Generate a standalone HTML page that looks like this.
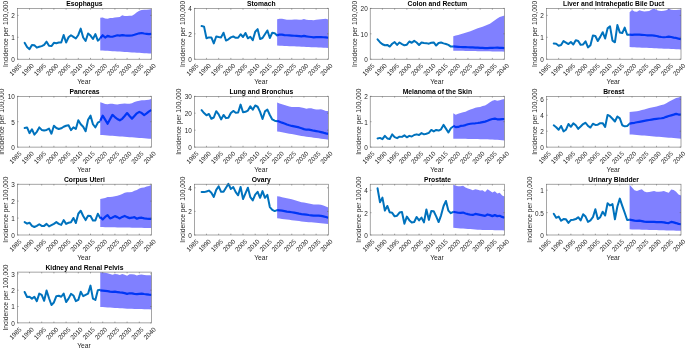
<!DOCTYPE html>
<html><head><meta charset="utf-8"><title>Incidence forecasts</title>
<style>html,body{margin:0;padding:0;background:#fff}svg{display:block}text{font-family:"Liberation Sans",Arial,sans-serif}.t{font-size:6.75px;font-weight:bold;fill:#000;text-anchor:middle}.l{font-size:6.7px;fill:#262626;text-anchor:middle}.k{font-size:6.4px;fill:#262626}</style></head>
<body>
<svg width="685" height="348" viewBox="0 0 685 348">
<rect width="685" height="348" fill="#fff"/>
<g>
<clipPath id="c0"><rect x="17.3" y="8.4" width="134.2" height="50.8"/></clipPath>
<polyline fill="none" stroke="#0072BD" stroke-width="2" stroke-linejoin="round" stroke-linecap="round" points="24.62,42.81 27.06,46.99 29.5,49.14 31.94,45.09 34.38,45.34 36.82,47.62 39.26,46.73 41.7,46.1 44.14,44.84 46.58,41.67 49.02,45.85 51.46,46.1 53.9,42.81 56.34,43.19 58.78,42.56 61.22,42.56 63.66,34.97 66.1,42.56 68.54,37.25 70.98,35.22 73.42,36.87 75.86,38.51 78.3,34.97 80.74,28.65 83.18,37.5 85.62,41.04 88.06,33.45 90.5,35.6 92.94,39.02 95.38,34.09 97.82,40.66 100.26,38.51"/>
<polygon clip-path="url(#c0)" fill="#8080FF" points="100.26,17.71 102.7,17.42 105.14,18.51 107.58,18.71 110.02,17.91 112.46,17.91 114.9,17.61 117.34,17.32 119.78,16.92 122.22,15.13 124.66,16.03 127.1,15.93 129.54,15.83 131.98,15.63 134.42,14.14 136.86,12.15 139.3,10.76 141.74,9.97 144.18,9.77 146.62,9.67 149.06,9.57 151.5,8.98 151.5,53.6 149.06,53.45 146.62,53.3 144.18,53.14 141.74,52.99 139.3,52.84 136.86,52.69 134.42,52.53 131.98,52.38 129.54,52.23 127.1,52.08 124.66,51.92 122.22,51.77 119.78,51.62 117.34,51.47 114.9,51.31 112.46,51.16 110.02,51.01 107.58,50.86 105.14,50.7 102.7,50.55 100.26,50.4"/>
<polyline clip-path="url(#c0)" fill="none" stroke="#0036F5" stroke-width="2.2" stroke-linejoin="round" points="100.26,38.26 102.7,35.28 105.14,37.57 107.58,35.78 110.02,36.58 112.46,36.77 114.9,35.98 117.34,35.28 119.78,35.58 122.22,35.09 124.66,35.38 127.1,35.58 129.54,35.58 131.98,35.48 134.42,34.79 136.86,33.99 139.3,33.3 141.74,33 144.18,33.5 146.62,33.8 149.06,34.09 151.5,33.8"/>
<rect x="17.3" y="8.4" width="134.2" height="50.8" fill="none" stroke="#6a6a6a" stroke-width="0.6"/>
<path d="M29.5 59.2v-1.3M29.5 8.4v1.3M41.7 59.2v-1.3M41.7 8.4v1.3M53.9 59.2v-1.3M53.9 8.4v1.3M66.1 59.2v-1.3M66.1 8.4v1.3M78.3 59.2v-1.3M78.3 8.4v1.3M90.5 59.2v-1.3M90.5 8.4v1.3M102.7 59.2v-1.3M102.7 8.4v1.3M114.9 59.2v-1.3M114.9 8.4v1.3M127.1 59.2v-1.3M127.1 8.4v1.3M139.3 59.2v-1.3M139.3 8.4v1.3M17.3 59.2h1.3M151.5 59.2h-1.3M17.3 37.3h1.3M151.5 37.3h-1.3M17.3 15.4h1.3M151.5 15.4h-1.3" stroke="#6a6a6a" stroke-width="0.6" fill="none"/>
<text class="k" text-anchor="end" transform="translate(22.1 66.2) rotate(-45)">1985</text>
<text class="k" text-anchor="end" transform="translate(34.3 66.2) rotate(-45)">1990</text>
<text class="k" text-anchor="end" transform="translate(46.5 66.2) rotate(-45)">1995</text>
<text class="k" text-anchor="end" transform="translate(58.7 66.2) rotate(-45)">2000</text>
<text class="k" text-anchor="end" transform="translate(70.9 66.2) rotate(-45)">2005</text>
<text class="k" text-anchor="end" transform="translate(83.1 66.2) rotate(-45)">2010</text>
<text class="k" text-anchor="end" transform="translate(95.3 66.2) rotate(-45)">2015</text>
<text class="k" text-anchor="end" transform="translate(107.5 66.2) rotate(-45)">2020</text>
<text class="k" text-anchor="end" transform="translate(119.7 66.2) rotate(-45)">2025</text>
<text class="k" text-anchor="end" transform="translate(131.9 66.2) rotate(-45)">2030</text>
<text class="k" text-anchor="end" transform="translate(144.1 66.2) rotate(-45)">2035</text>
<text class="k" text-anchor="end" transform="translate(156.3 66.2) rotate(-45)">2040</text>
<text class="k" text-anchor="end" x="14.8" y="62.1">0</text>
<text class="k" text-anchor="end" x="14.8" y="40.2">1</text>
<text class="k" text-anchor="end" x="14.8" y="18.3">2</text>
<text class="t" x="84.4" y="5.8">Esophagus</text>
<text class="l" x="84" y="84.3">Year</text>
<text class="l" transform="translate(8.04 33.8) rotate(-90)">Incidence per 100,000</text>
</g>
<g>
<clipPath id="c1"><rect x="194.3" y="8.4" width="134" height="50.8"/></clipPath>
<polyline fill="none" stroke="#0072BD" stroke-width="2" stroke-linejoin="round" stroke-linecap="round" points="201.61,26.01 204.05,26.65 206.48,38.28 208.92,37.4 211.35,37.4 213.79,43.34 216.23,36.51 218.66,37.02 221.1,37.4 223.54,32.72 225.97,40.56 228.41,39.29 230.85,37.4 233.28,36.51 235.72,37.78 238.15,37.78 240.59,34.24 243.03,37.02 245.46,32.97 247.9,38.28 250.34,36.76 252.77,40.31 255.21,31.71 257.65,29.18 260.08,39.04 262.52,38.03 264.95,34.24 267.39,30.44 269.83,38.03 272.26,32.72 274.7,33.22 277.14,35.5"/>
<polygon clip-path="url(#c1)" fill="#8080FF" points="277.14,19.16 279.57,18.76 282.01,18.67 284.45,19.16 286.88,19.66 289.32,19.86 291.75,19.76 294.19,19.56 296.63,19.46 299.06,19.76 301.5,19.76 303.94,18.96 306.37,19.76 308.81,19.96 311.25,19.96 313.68,20.35 316.12,19.66 318.55,19.56 320.99,19.36 323.43,18.96 325.86,18.76 328.3,19.46 328.3,47.9 325.86,47.79 323.43,47.68 320.99,47.57 318.55,47.46 316.12,47.35 313.68,47.24 311.25,47.13 308.81,47.02 306.37,46.91 303.94,46.8 301.5,46.7 299.06,46.59 296.63,46.48 294.19,46.37 291.75,46.26 289.32,46.15 286.88,46.04 284.45,45.93 282.01,45.82 279.57,45.71 277.14,45.6"/>
<polyline clip-path="url(#c1)" fill="none" stroke="#0036F5" stroke-width="2.2" stroke-linejoin="round" points="277.14,35.34 279.57,34.55 282.01,34.65 284.45,35.05 286.88,35.24 289.32,35.34 291.75,35.54 294.19,35.74 296.63,35.84 299.06,36.04 301.5,36.34 303.94,35.84 306.37,36.44 308.81,36.73 311.25,37.03 313.68,37.43 316.12,37.13 318.55,37.03 320.99,37.13 323.43,37.23 325.86,37.43 328.3,37.73"/>
<rect x="194.3" y="8.4" width="134" height="50.8" fill="none" stroke="#6a6a6a" stroke-width="0.6"/>
<path d="M206.48 59.2v-1.3M206.48 8.4v1.3M218.66 59.2v-1.3M218.66 8.4v1.3M230.85 59.2v-1.3M230.85 8.4v1.3M243.03 59.2v-1.3M243.03 8.4v1.3M255.21 59.2v-1.3M255.21 8.4v1.3M267.39 59.2v-1.3M267.39 8.4v1.3M279.57 59.2v-1.3M279.57 8.4v1.3M291.75 59.2v-1.3M291.75 8.4v1.3M303.94 59.2v-1.3M303.94 8.4v1.3M316.12 59.2v-1.3M316.12 8.4v1.3M194.3 59.2h1.3M328.3 59.2h-1.3M194.3 33.8h1.3M328.3 33.8h-1.3M194.3 8.4h1.3M328.3 8.4h-1.3" stroke="#6a6a6a" stroke-width="0.6" fill="none"/>
<text class="k" text-anchor="end" transform="translate(199.1 66.2) rotate(-45)">1985</text>
<text class="k" text-anchor="end" transform="translate(211.28 66.2) rotate(-45)">1990</text>
<text class="k" text-anchor="end" transform="translate(223.46 66.2) rotate(-45)">1995</text>
<text class="k" text-anchor="end" transform="translate(235.65 66.2) rotate(-45)">2000</text>
<text class="k" text-anchor="end" transform="translate(247.83 66.2) rotate(-45)">2005</text>
<text class="k" text-anchor="end" transform="translate(260.01 66.2) rotate(-45)">2010</text>
<text class="k" text-anchor="end" transform="translate(272.19 66.2) rotate(-45)">2015</text>
<text class="k" text-anchor="end" transform="translate(284.37 66.2) rotate(-45)">2020</text>
<text class="k" text-anchor="end" transform="translate(296.55 66.2) rotate(-45)">2025</text>
<text class="k" text-anchor="end" transform="translate(308.74 66.2) rotate(-45)">2030</text>
<text class="k" text-anchor="end" transform="translate(320.92 66.2) rotate(-45)">2035</text>
<text class="k" text-anchor="end" transform="translate(333.1 66.2) rotate(-45)">2040</text>
<text class="k" text-anchor="end" x="191.8" y="62.1">0</text>
<text class="k" text-anchor="end" x="191.8" y="36.7">2</text>
<text class="k" text-anchor="end" x="191.8" y="11.3">4</text>
<text class="t" x="261.3" y="5.8">Stomach</text>
<text class="l" x="260.9" y="84.3">Year</text>
<text class="l" transform="translate(185.04 33.8) rotate(-90)">Incidence per 100,000</text>
</g>
<g>
<clipPath id="c2"><rect x="370.2" y="8.4" width="134.4" height="50.8"/></clipPath>
<polyline fill="none" stroke="#0072BD" stroke-width="2" stroke-linejoin="round" stroke-linecap="round" points="377.53,39.35 379.97,42.13 382.42,44.28 384.86,45.29 387.31,44.91 389.75,46.56 392.19,43.78 394.64,42.13 397.08,44.91 399.52,42.51 401.97,44.03 404.41,45.29 406.85,44.66 409.3,41.5 411.74,42.76 414.19,40.87 416.63,42.51 419.07,45.04 421.52,42.51 423.96,43.02 426.4,43.14 428.85,43.65 431.29,42.76 433.73,42.39 436.18,45.55 438.62,43.02 441.07,42.51 443.51,43.4 445.95,44.03 448.4,44.91 450.84,46.56 453.28,46.56"/>
<polygon clip-path="url(#c2)" fill="#8080FF" points="453.28,36.28 455.73,35.58 458.17,34.99 460.61,34.29 463.06,33.6 465.5,32.8 467.95,32.01 470.39,31.31 472.83,30.32 475.28,29.33 477.72,28.34 480.16,27.54 482.61,26.65 485.05,25.66 487.49,24.86 489.94,23.67 492.38,22.08 494.83,20.2 497.27,18.41 499.71,16.92 502.16,16.22 504.6,15.43 504.6,51.65 502.16,51.6 499.71,51.55 497.27,51.51 494.83,51.46 492.38,51.41 489.94,51.36 487.49,51.32 485.05,51.27 482.61,51.22 480.16,51.17 477.72,51.13 475.28,51.08 472.83,51.03 470.39,50.98 467.95,50.94 465.5,50.89 463.06,50.84 460.61,50.79 458.17,50.75 455.73,50.7 453.28,50.65"/>
<polyline clip-path="url(#c2)" fill="none" stroke="#0036F5" stroke-width="2.2" stroke-linejoin="round" points="453.28,46.38 455.73,46.58 458.17,46.78 460.61,46.98 463.06,47.07 465.5,47.17 467.95,47.27 470.39,47.37 472.83,47.47 475.28,47.57 477.72,47.67 480.16,47.87 482.61,47.97 485.05,48.07 487.49,48.07 489.94,47.97 492.38,47.87 494.83,47.77 497.27,47.67 499.71,47.87 502.16,47.97 504.6,48.07"/>
<rect x="370.2" y="8.4" width="134.4" height="50.8" fill="none" stroke="#6a6a6a" stroke-width="0.6"/>
<path d="M382.42 59.2v-1.3M382.42 8.4v1.3M394.64 59.2v-1.3M394.64 8.4v1.3M406.85 59.2v-1.3M406.85 8.4v1.3M419.07 59.2v-1.3M419.07 8.4v1.3M431.29 59.2v-1.3M431.29 8.4v1.3M443.51 59.2v-1.3M443.51 8.4v1.3M455.73 59.2v-1.3M455.73 8.4v1.3M467.95 59.2v-1.3M467.95 8.4v1.3M480.16 59.2v-1.3M480.16 8.4v1.3M492.38 59.2v-1.3M492.38 8.4v1.3M370.2 59.2h1.3M504.6 59.2h-1.3M370.2 33.8h1.3M504.6 33.8h-1.3M370.2 8.4h1.3M504.6 8.4h-1.3" stroke="#6a6a6a" stroke-width="0.6" fill="none"/>
<text class="k" text-anchor="end" transform="translate(375 66.2) rotate(-45)">1985</text>
<text class="k" text-anchor="end" transform="translate(387.22 66.2) rotate(-45)">1990</text>
<text class="k" text-anchor="end" transform="translate(399.44 66.2) rotate(-45)">1995</text>
<text class="k" text-anchor="end" transform="translate(411.65 66.2) rotate(-45)">2000</text>
<text class="k" text-anchor="end" transform="translate(423.87 66.2) rotate(-45)">2005</text>
<text class="k" text-anchor="end" transform="translate(436.09 66.2) rotate(-45)">2010</text>
<text class="k" text-anchor="end" transform="translate(448.31 66.2) rotate(-45)">2015</text>
<text class="k" text-anchor="end" transform="translate(460.53 66.2) rotate(-45)">2020</text>
<text class="k" text-anchor="end" transform="translate(472.75 66.2) rotate(-45)">2025</text>
<text class="k" text-anchor="end" transform="translate(484.96 66.2) rotate(-45)">2030</text>
<text class="k" text-anchor="end" transform="translate(497.18 66.2) rotate(-45)">2035</text>
<text class="k" text-anchor="end" transform="translate(509.4 66.2) rotate(-45)">2040</text>
<text class="k" text-anchor="end" x="367.7" y="62.1">0</text>
<text class="k" text-anchor="end" x="367.7" y="36.7">10</text>
<text class="k" text-anchor="end" x="367.7" y="11.3">20</text>
<text class="t" x="437.4" y="5.8">Colon and Rectum</text>
<text class="l" x="437" y="84.3">Year</text>
<text class="l" transform="translate(357.38 33.8) rotate(-90)">Incidence per 100,000</text>
</g>
<g>
<clipPath id="c3"><rect x="546.4" y="8.4" width="134.6" height="50.8"/></clipPath>
<polyline fill="none" stroke="#0072BD" stroke-width="2" stroke-linejoin="round" stroke-linecap="round" points="553.74,43.57 556.19,43.82 558.64,45.72 561.08,45.09 563.53,41.04 565.98,42.56 568.43,44.08 570.87,41.93 573.32,44.46 575.77,40.28 578.21,41.04 580.66,44.84 583.11,44.46 585.56,41.29 588,47.36 590.45,45.34 592.9,35.6 595.35,35.98 597.79,41.04 600.24,36.87 602.69,32.19 605.13,38.51 607.58,28.39 610.03,26.37 612.48,40.66 614.92,42.31 617.37,25.11 619.82,32.44 622.27,33.07 624.71,27.64 627.16,34.72 629.61,34.72"/>
<polygon clip-path="url(#c3)" fill="#8080FF" points="629.61,12.15 632.05,9.97 634.5,11.46 636.95,11.76 639.4,10.17 641.84,10.96 644.29,11.46 646.74,11.16 649.19,10.96 651.63,9.47 654.08,8.48 656.53,9.97 658.97,10.76 661.42,10.96 663.87,10.76 666.32,10.17 668.76,8.78 671.21,9.77 673.66,9.97 676.11,9.97 678.55,9.77 681,9.47 681,49.4 678.55,49.29 676.11,49.18 673.66,49.07 671.21,48.96 668.76,48.85 666.32,48.74 663.87,48.63 661.42,48.52 658.97,48.41 656.53,48.3 654.08,48.2 651.63,48.09 649.19,47.98 646.74,47.87 644.29,47.76 641.84,47.65 639.4,47.54 636.95,47.43 634.5,47.32 632.05,47.21 629.61,47.1"/>
<polyline clip-path="url(#c3)" fill="none" stroke="#0036F5" stroke-width="2.2" stroke-linejoin="round" points="629.61,34.59 632.05,34.79 634.5,34.59 636.95,34.49 639.4,34.59 641.84,34.79 644.29,34.99 646.74,35.28 649.19,35.38 651.63,35.28 654.08,35.58 656.53,35.98 658.97,36.58 661.42,36.97 663.87,37.27 666.32,36.97 668.76,36.58 671.21,36.97 673.66,37.57 676.11,37.96 678.55,38.56 681,39.06"/>
<rect x="546.4" y="8.4" width="134.6" height="50.8" fill="none" stroke="#6a6a6a" stroke-width="0.6"/>
<path d="M558.64 59.2v-1.3M558.64 8.4v1.3M570.87 59.2v-1.3M570.87 8.4v1.3M583.11 59.2v-1.3M583.11 8.4v1.3M595.35 59.2v-1.3M595.35 8.4v1.3M607.58 59.2v-1.3M607.58 8.4v1.3M619.82 59.2v-1.3M619.82 8.4v1.3M632.05 59.2v-1.3M632.05 8.4v1.3M644.29 59.2v-1.3M644.29 8.4v1.3M656.53 59.2v-1.3M656.53 8.4v1.3M668.76 59.2v-1.3M668.76 8.4v1.3M546.4 59.2h1.3M681 59.2h-1.3M546.4 37.3h1.3M681 37.3h-1.3M546.4 15.4h1.3M681 15.4h-1.3" stroke="#6a6a6a" stroke-width="0.6" fill="none"/>
<text class="k" text-anchor="end" transform="translate(551.2 66.2) rotate(-45)">1985</text>
<text class="k" text-anchor="end" transform="translate(563.44 66.2) rotate(-45)">1990</text>
<text class="k" text-anchor="end" transform="translate(575.67 66.2) rotate(-45)">1995</text>
<text class="k" text-anchor="end" transform="translate(587.91 66.2) rotate(-45)">2000</text>
<text class="k" text-anchor="end" transform="translate(600.15 66.2) rotate(-45)">2005</text>
<text class="k" text-anchor="end" transform="translate(612.38 66.2) rotate(-45)">2010</text>
<text class="k" text-anchor="end" transform="translate(624.62 66.2) rotate(-45)">2015</text>
<text class="k" text-anchor="end" transform="translate(636.85 66.2) rotate(-45)">2020</text>
<text class="k" text-anchor="end" transform="translate(649.09 66.2) rotate(-45)">2025</text>
<text class="k" text-anchor="end" transform="translate(661.33 66.2) rotate(-45)">2030</text>
<text class="k" text-anchor="end" transform="translate(673.56 66.2) rotate(-45)">2035</text>
<text class="k" text-anchor="end" transform="translate(685.8 66.2) rotate(-45)">2040</text>
<text class="k" text-anchor="end" x="543.9" y="62.1">0</text>
<text class="k" text-anchor="end" x="543.9" y="40.2">1</text>
<text class="k" text-anchor="end" x="543.9" y="18.3">2</text>
<text class="t" x="613.7" y="5.8">Liver and Intrahepatic Bile Duct</text>
<text class="l" x="613.3" y="84.3">Year</text>
<text class="l" transform="translate(537.14 33.8) rotate(-90)">Incidence per 100,000</text>
</g>
<g>
<clipPath id="c4"><rect x="17.3" y="96.3" width="134.2" height="50.8"/></clipPath>
<polyline fill="none" stroke="#0072BD" stroke-width="2" stroke-linejoin="round" stroke-linecap="round" points="24.62,128.03 27.06,127.4 29.5,133.09 31.94,129.29 34.38,134.61 36.82,131.82 39.26,127.4 41.7,129.93 44.14,130.56 46.58,129.93 49.02,128.66 51.46,133.72 53.9,125.75 56.34,128.03 58.78,129.04 61.22,128.28 63.66,126.76 66.1,125.75 68.54,125.25 70.98,130.18 73.42,127.4 75.86,129.04 78.3,120.19 80.74,124.24 83.18,126.76 85.62,131.19 88.06,119.81 90.5,115.64 92.94,124.24 95.38,127.4 97.82,122.72 100.26,121.45"/>
<polygon clip-path="url(#c4)" fill="#8080FF" points="100.26,102.14 102.7,102.93 105.14,103.93 107.58,104.13 110.02,103.63 112.46,103.73 114.9,104.32 117.34,104.42 119.78,104.03 122.22,103.73 124.66,103.43 127.1,103.83 129.54,103.73 131.98,103.23 134.42,101.94 136.86,101.15 139.3,100.75 141.74,100.25 144.18,100.15 146.62,99.96 149.06,99.76 151.5,98.76 151.5,138.85 149.06,138.66 146.62,138.47 144.18,138.29 141.74,138.1 139.3,137.91 136.86,137.72 134.42,137.53 131.98,137.35 129.54,137.16 127.1,136.97 124.66,136.78 122.22,136.59 119.78,136.4 117.34,136.22 114.9,136.03 112.46,135.84 110.02,135.65 107.58,135.46 105.14,135.28 102.7,135.09 100.26,134.9"/>
<polyline clip-path="url(#c4)" fill="none" stroke="#0036F5" stroke-width="2.2" stroke-linejoin="round" points="100.26,120.8 102.7,115.64 105.14,119.61 107.58,123.78 110.02,119.31 112.46,114.85 114.9,117.03 117.34,119.02 119.78,120.31 122.22,118.82 124.66,116.04 127.1,113.06 129.54,116.04 131.98,118.62 134.42,116.04 136.86,113.36 139.3,111.87 141.74,113.06 144.18,115.05 146.62,113.36 149.06,111.37 151.5,110.08"/>
<rect x="17.3" y="96.3" width="134.2" height="50.8" fill="none" stroke="#6a6a6a" stroke-width="0.6"/>
<path d="M29.5 147.1v-1.3M29.5 96.3v1.3M41.7 147.1v-1.3M41.7 96.3v1.3M53.9 147.1v-1.3M53.9 96.3v1.3M66.1 147.1v-1.3M66.1 96.3v1.3M78.3 147.1v-1.3M78.3 96.3v1.3M90.5 147.1v-1.3M90.5 96.3v1.3M102.7 147.1v-1.3M102.7 96.3v1.3M114.9 147.1v-1.3M114.9 96.3v1.3M127.1 147.1v-1.3M127.1 96.3v1.3M139.3 147.1v-1.3M139.3 96.3v1.3M17.3 147.1h1.3M151.5 147.1h-1.3M17.3 121.7h1.3M151.5 121.7h-1.3M17.3 96.3h1.3M151.5 96.3h-1.3" stroke="#6a6a6a" stroke-width="0.6" fill="none"/>
<text class="k" text-anchor="end" transform="translate(22.1 154.1) rotate(-45)">1985</text>
<text class="k" text-anchor="end" transform="translate(34.3 154.1) rotate(-45)">1990</text>
<text class="k" text-anchor="end" transform="translate(46.5 154.1) rotate(-45)">1995</text>
<text class="k" text-anchor="end" transform="translate(58.7 154.1) rotate(-45)">2000</text>
<text class="k" text-anchor="end" transform="translate(70.9 154.1) rotate(-45)">2005</text>
<text class="k" text-anchor="end" transform="translate(83.1 154.1) rotate(-45)">2010</text>
<text class="k" text-anchor="end" transform="translate(95.3 154.1) rotate(-45)">2015</text>
<text class="k" text-anchor="end" transform="translate(107.5 154.1) rotate(-45)">2020</text>
<text class="k" text-anchor="end" transform="translate(119.7 154.1) rotate(-45)">2025</text>
<text class="k" text-anchor="end" transform="translate(131.9 154.1) rotate(-45)">2030</text>
<text class="k" text-anchor="end" transform="translate(144.1 154.1) rotate(-45)">2035</text>
<text class="k" text-anchor="end" transform="translate(156.3 154.1) rotate(-45)">2040</text>
<text class="k" text-anchor="end" x="14.8" y="150">0</text>
<text class="k" text-anchor="end" x="14.8" y="124.6">5</text>
<text class="k" text-anchor="end" x="14.8" y="99.2">10</text>
<text class="t" x="84.4" y="93.7">Pancreas</text>
<text class="l" x="84" y="172.2">Year</text>
<text class="l" transform="translate(4.48 121.7) rotate(-90)">Incidence per 100,000</text>
</g>
<g>
<clipPath id="c5"><rect x="194.3" y="96.3" width="134" height="50.8"/></clipPath>
<polyline fill="none" stroke="#0072BD" stroke-width="2" stroke-linejoin="round" stroke-linecap="round" points="201.61,110.16 204.05,113.07 206.48,115.35 208.92,113.96 211.35,118.76 213.79,117.5 216.23,111.18 218.66,114.34 221.1,119.4 223.54,114.97 225.97,118.13 228.41,117.75 230.85,113.07 233.28,110.92 235.72,112.69 238.15,112.44 240.59,104.6 243.03,112.19 245.46,111.81 247.9,110.54 250.34,106.37 252.77,109.66 255.21,105.49 257.65,106.75 260.08,111.81 262.52,119.02 264.95,111.43 267.39,109.66 269.83,114.97 272.26,119.4 274.7,120.66 277.14,121.29"/>
<polygon clip-path="url(#c5)" fill="#8080FF" points="277.14,102.44 279.57,103.43 282.01,104.22 284.45,104.92 286.88,105.71 289.32,106.51 291.75,106.91 294.19,107.1 296.63,107 299.06,107.1 301.5,107.5 303.94,108.1 306.37,108.69 308.81,108.29 311.25,108.2 313.68,108.89 316.12,109.39 318.55,109.49 320.99,109.19 323.43,109.88 325.86,110.88 328.3,111.07 328.3,139.64 325.86,139.31 323.43,138.99 320.99,138.66 318.55,138.33 316.12,138 313.68,137.68 311.25,137.35 308.81,137.02 306.37,136.69 303.94,136.36 301.5,135.91 299.06,135.46 296.63,135.01 294.19,134.56 291.75,134.11 289.32,133.66 286.88,133.21 284.45,132.76 282.01,132.3 279.57,131.85 277.14,131.4"/>
<polyline clip-path="url(#c5)" fill="none" stroke="#0036F5" stroke-width="2.2" stroke-linejoin="round" points="277.14,120.78 279.57,121.67 282.01,122.67 284.45,123.46 286.88,124.45 289.32,125.25 291.75,125.94 294.19,126.44 296.63,126.93 299.06,127.43 301.5,128.22 303.94,129.12 306.37,129.71 308.81,129.61 311.25,130.11 313.68,130.71 316.12,131.1 318.55,131.5 320.99,132.1 323.43,132.69 325.86,133.39 328.3,133.88"/>
<rect x="194.3" y="96.3" width="134" height="50.8" fill="none" stroke="#6a6a6a" stroke-width="0.6"/>
<path d="M206.48 147.1v-1.3M206.48 96.3v1.3M218.66 147.1v-1.3M218.66 96.3v1.3M230.85 147.1v-1.3M230.85 96.3v1.3M243.03 147.1v-1.3M243.03 96.3v1.3M255.21 147.1v-1.3M255.21 96.3v1.3M267.39 147.1v-1.3M267.39 96.3v1.3M279.57 147.1v-1.3M279.57 96.3v1.3M291.75 147.1v-1.3M291.75 96.3v1.3M303.94 147.1v-1.3M303.94 96.3v1.3M316.12 147.1v-1.3M316.12 96.3v1.3M194.3 147.1h1.3M328.3 147.1h-1.3M194.3 130.2h1.3M328.3 130.2h-1.3M194.3 113.2h1.3M328.3 113.2h-1.3M194.3 96.3h1.3M328.3 96.3h-1.3" stroke="#6a6a6a" stroke-width="0.6" fill="none"/>
<text class="k" text-anchor="end" transform="translate(199.1 154.1) rotate(-45)">1985</text>
<text class="k" text-anchor="end" transform="translate(211.28 154.1) rotate(-45)">1990</text>
<text class="k" text-anchor="end" transform="translate(223.46 154.1) rotate(-45)">1995</text>
<text class="k" text-anchor="end" transform="translate(235.65 154.1) rotate(-45)">2000</text>
<text class="k" text-anchor="end" transform="translate(247.83 154.1) rotate(-45)">2005</text>
<text class="k" text-anchor="end" transform="translate(260.01 154.1) rotate(-45)">2010</text>
<text class="k" text-anchor="end" transform="translate(272.19 154.1) rotate(-45)">2015</text>
<text class="k" text-anchor="end" transform="translate(284.37 154.1) rotate(-45)">2020</text>
<text class="k" text-anchor="end" transform="translate(296.55 154.1) rotate(-45)">2025</text>
<text class="k" text-anchor="end" transform="translate(308.74 154.1) rotate(-45)">2030</text>
<text class="k" text-anchor="end" transform="translate(320.92 154.1) rotate(-45)">2035</text>
<text class="k" text-anchor="end" transform="translate(333.1 154.1) rotate(-45)">2040</text>
<text class="k" text-anchor="end" x="191.8" y="150">0</text>
<text class="k" text-anchor="end" x="191.8" y="133.1">10</text>
<text class="k" text-anchor="end" x="191.8" y="116.1">20</text>
<text class="k" text-anchor="end" x="191.8" y="99.2">30</text>
<text class="t" x="261.3" y="93.7">Lung and Bronchus</text>
<text class="l" x="260.9" y="172.2">Year</text>
<text class="l" transform="translate(181.48 121.7) rotate(-90)">Incidence per 100,000</text>
</g>
<g>
<clipPath id="c6"><rect x="370.2" y="96.3" width="134.4" height="50.8"/></clipPath>
<polyline fill="none" stroke="#0072BD" stroke-width="2" stroke-linejoin="round" stroke-linecap="round" points="377.53,138.4 379.97,137.89 382.42,139.16 384.86,135.87 387.31,138.4 389.75,138.91 392.19,134.35 394.64,137.14 397.08,138.15 399.52,136.63 401.97,136.88 404.41,135.36 406.85,137.26 409.3,135.87 411.74,136.5 414.19,134.99 416.63,134.35 419.07,134.99 421.52,133.09 423.96,134.35 426.4,133.72 428.85,132.84 431.29,129.93 433.73,131.44 436.18,129.93 438.62,130.56 441.07,129.29 443.51,124.87 445.95,128.66 448.4,132.46 450.84,128.28 453.28,126.51"/>
<polygon clip-path="url(#c6)" fill="#8080FF" points="453.28,113.36 455.73,114.85 458.17,113.85 460.61,113.06 463.06,112.36 465.5,111.67 467.95,110.38 470.39,109.39 472.83,108.69 475.28,107.7 477.72,107.2 480.16,106.91 482.61,106.11 485.05,105.42 487.49,103.93 489.94,102.14 492.38,100.75 494.83,99.96 497.27,100.75 499.71,100.15 502.16,99.46 504.6,98.96 504.6,140.44 502.16,140.24 499.71,140.04 497.27,139.84 494.83,139.64 492.38,139.44 489.94,139.38 487.49,139.32 485.05,139.26 482.61,139.2 480.16,139.14 477.72,139.1 475.28,139.05 472.83,139.01 470.39,138.96 467.95,138.92 465.5,138.87 463.06,138.83 460.61,138.78 458.17,138.74 455.73,138.69 453.28,138.65"/>
<polyline clip-path="url(#c6)" fill="none" stroke="#0036F5" stroke-width="2.2" stroke-linejoin="round" points="453.28,125.77 455.73,127.16 458.17,126.96 460.61,125.96 463.06,125.77 465.5,125.07 467.95,124.28 470.39,123.78 472.83,123.48 475.28,123.28 477.72,122.99 480.16,122.59 482.61,122.09 485.05,121.6 487.49,120.8 489.94,119.81 492.38,119.02 494.83,118.62 497.27,119.31 499.71,119.31 502.16,119.12 504.6,119.02"/>
<rect x="370.2" y="96.3" width="134.4" height="50.8" fill="none" stroke="#6a6a6a" stroke-width="0.6"/>
<path d="M382.42 147.1v-1.3M382.42 96.3v1.3M394.64 147.1v-1.3M394.64 96.3v1.3M406.85 147.1v-1.3M406.85 96.3v1.3M419.07 147.1v-1.3M419.07 96.3v1.3M431.29 147.1v-1.3M431.29 96.3v1.3M443.51 147.1v-1.3M443.51 96.3v1.3M455.73 147.1v-1.3M455.73 96.3v1.3M467.95 147.1v-1.3M467.95 96.3v1.3M480.16 147.1v-1.3M480.16 96.3v1.3M492.38 147.1v-1.3M492.38 96.3v1.3M370.2 147.1h1.3M504.6 147.1h-1.3M370.2 121.7h1.3M504.6 121.7h-1.3M370.2 96.3h1.3M504.6 96.3h-1.3" stroke="#6a6a6a" stroke-width="0.6" fill="none"/>
<text class="k" text-anchor="end" transform="translate(375 154.1) rotate(-45)">1985</text>
<text class="k" text-anchor="end" transform="translate(387.22 154.1) rotate(-45)">1990</text>
<text class="k" text-anchor="end" transform="translate(399.44 154.1) rotate(-45)">1995</text>
<text class="k" text-anchor="end" transform="translate(411.65 154.1) rotate(-45)">2000</text>
<text class="k" text-anchor="end" transform="translate(423.87 154.1) rotate(-45)">2005</text>
<text class="k" text-anchor="end" transform="translate(436.09 154.1) rotate(-45)">2010</text>
<text class="k" text-anchor="end" transform="translate(448.31 154.1) rotate(-45)">2015</text>
<text class="k" text-anchor="end" transform="translate(460.53 154.1) rotate(-45)">2020</text>
<text class="k" text-anchor="end" transform="translate(472.75 154.1) rotate(-45)">2025</text>
<text class="k" text-anchor="end" transform="translate(484.96 154.1) rotate(-45)">2030</text>
<text class="k" text-anchor="end" transform="translate(497.18 154.1) rotate(-45)">2035</text>
<text class="k" text-anchor="end" transform="translate(509.4 154.1) rotate(-45)">2040</text>
<text class="k" text-anchor="end" x="367.7" y="150">0</text>
<text class="k" text-anchor="end" x="367.7" y="124.6">1</text>
<text class="k" text-anchor="end" x="367.7" y="99.2">2</text>
<text class="t" x="437.4" y="93.7">Melanoma of the Skin</text>
<text class="l" x="437" y="172.2">Year</text>
<text class="l" transform="translate(360.94 121.7) rotate(-90)">Incidence per 100,000</text>
</g>
<g>
<clipPath id="c7"><rect x="546.4" y="96.3" width="134.6" height="50.8"/></clipPath>
<polyline fill="none" stroke="#0072BD" stroke-width="2" stroke-linejoin="round" stroke-linecap="round" points="553.74,125.29 556.19,127.19 558.64,129.72 561.08,125.93 563.53,131.36 565.98,129.72 568.43,124.03 570.87,126.81 573.32,123.4 575.77,125.29 578.21,128.84 580.66,126.56 583.11,124.03 585.56,122.76 588,125.93 590.45,127.57 592.9,123.78 595.35,124.91 597.79,124.66 600.24,123.14 602.69,123.14 605.13,126.94 607.58,114.92 610.03,116.19 612.48,118.72 614.92,121.5 617.37,116.44 619.82,118.34 622.27,125.29 624.71,126.31 627.16,125.93 629.61,123.78"/>
<polygon clip-path="url(#c7)" fill="#8080FF" points="629.61,112.07 632.05,111.87 634.5,111.57 636.95,111.17 639.4,110.68 641.84,110.08 644.29,109.39 646.74,108.69 649.19,108.1 651.63,107.4 654.08,106.91 656.53,106.41 658.97,105.71 661.42,105.12 663.87,104.42 666.32,103.13 668.76,101.74 671.21,100.45 673.66,99.16 676.11,97.97 678.55,97.57 681,96.48 681,138.65 678.55,138.45 676.11,138.25 673.66,138.04 671.21,137.84 668.76,137.64 666.32,137.44 663.87,137.23 661.42,137.03 658.97,136.83 656.53,136.63 654.08,136.42 651.63,136.22 649.19,136.02 646.74,135.82 644.29,135.61 641.84,135.41 639.4,135.21 636.95,135.01 634.5,134.8 632.05,134.6 629.61,134.4"/>
<polyline clip-path="url(#c7)" fill="none" stroke="#0036F5" stroke-width="2.2" stroke-linejoin="round" points="629.61,123.58 632.05,123.09 634.5,122.79 636.95,122.29 639.4,121.8 641.84,121.3 644.29,120.8 646.74,120.41 649.19,120.01 651.63,119.61 654.08,119.21 656.53,118.82 658.97,118.52 661.42,118.22 663.87,117.82 666.32,116.83 668.76,116.04 671.21,115.34 673.66,114.65 676.11,113.85 678.55,114.55 681,114.65"/>
<rect x="546.4" y="96.3" width="134.6" height="50.8" fill="none" stroke="#6a6a6a" stroke-width="0.6"/>
<path d="M558.64 147.1v-1.3M558.64 96.3v1.3M570.87 147.1v-1.3M570.87 96.3v1.3M583.11 147.1v-1.3M583.11 96.3v1.3M595.35 147.1v-1.3M595.35 96.3v1.3M607.58 147.1v-1.3M607.58 96.3v1.3M619.82 147.1v-1.3M619.82 96.3v1.3M632.05 147.1v-1.3M632.05 96.3v1.3M644.29 147.1v-1.3M644.29 96.3v1.3M656.53 147.1v-1.3M656.53 96.3v1.3M668.76 147.1v-1.3M668.76 96.3v1.3M546.4 147.1h1.3M681 147.1h-1.3M546.4 131.2h1.3M681 131.2h-1.3M546.4 115.3h1.3M681 115.3h-1.3M546.4 99.4h1.3M681 99.4h-1.3" stroke="#6a6a6a" stroke-width="0.6" fill="none"/>
<text class="k" text-anchor="end" transform="translate(551.2 154.1) rotate(-45)">1985</text>
<text class="k" text-anchor="end" transform="translate(563.44 154.1) rotate(-45)">1990</text>
<text class="k" text-anchor="end" transform="translate(575.67 154.1) rotate(-45)">1995</text>
<text class="k" text-anchor="end" transform="translate(587.91 154.1) rotate(-45)">2000</text>
<text class="k" text-anchor="end" transform="translate(600.15 154.1) rotate(-45)">2005</text>
<text class="k" text-anchor="end" transform="translate(612.38 154.1) rotate(-45)">2010</text>
<text class="k" text-anchor="end" transform="translate(624.62 154.1) rotate(-45)">2015</text>
<text class="k" text-anchor="end" transform="translate(636.85 154.1) rotate(-45)">2020</text>
<text class="k" text-anchor="end" transform="translate(649.09 154.1) rotate(-45)">2025</text>
<text class="k" text-anchor="end" transform="translate(661.33 154.1) rotate(-45)">2030</text>
<text class="k" text-anchor="end" transform="translate(673.56 154.1) rotate(-45)">2035</text>
<text class="k" text-anchor="end" transform="translate(685.8 154.1) rotate(-45)">2040</text>
<text class="k" text-anchor="end" x="543.9" y="150">0</text>
<text class="k" text-anchor="end" x="543.9" y="134.1">2</text>
<text class="k" text-anchor="end" x="543.9" y="118.2">4</text>
<text class="k" text-anchor="end" x="543.9" y="102.3">6</text>
<text class="t" x="613.7" y="93.7">Breast</text>
<text class="l" x="613.3" y="172.2">Year</text>
<text class="l" transform="translate(537.14 121.7) rotate(-90)">Incidence per 100,000</text>
</g>
<g>
<clipPath id="c8"><rect x="17.3" y="184.2" width="134.2" height="50.8"/></clipPath>
<polyline fill="none" stroke="#0072BD" stroke-width="2" stroke-linejoin="round" stroke-linecap="round" points="24.62,222.1 27.06,223.62 29.5,222.73 31.94,225.89 34.38,227.03 36.82,225.89 39.26,224.25 41.7,225.89 44.14,225.89 46.58,223.87 49.02,226.4 51.46,225.14 53.9,223.87 56.34,222.1 58.78,223.87 61.22,224.88 63.66,220.08 66.1,223.87 68.54,222.73 70.98,222.35 73.42,217.93 75.86,222.99 78.3,213.75 80.74,210.72 83.18,216.03 85.62,220.08 88.06,215.78 90.5,216.03 92.94,220.46 95.38,220.46 97.82,213.75 100.26,217.93"/>
<polygon clip-path="url(#c8)" fill="#8080FF" points="100.26,198.88 102.7,198.38 105.14,197.88 107.58,197.09 110.02,197.09 112.46,196.69 114.9,196.2 117.34,195.7 119.78,194.91 122.22,194.11 124.66,192.72 127.1,192.22 129.54,192.13 131.98,191.93 134.42,190.74 136.86,189.94 139.3,188.45 141.74,187.76 144.18,187.46 146.62,186.47 149.06,185.97 151.5,184.78 151.5,228.05 149.06,228 146.62,227.95 144.18,227.91 141.74,227.86 139.3,227.81 136.86,227.76 134.42,227.72 131.98,227.67 129.54,227.62 127.1,227.57 124.66,227.53 122.22,227.48 119.78,227.43 117.34,227.38 114.9,227.34 112.46,227.29 110.02,227.24 107.58,227.19 105.14,227.15 102.7,227.1 100.26,227.05"/>
<polyline clip-path="url(#c8)" fill="none" stroke="#0036F5" stroke-width="2.2" stroke-linejoin="round" points="100.26,216.92 102.7,219.4 105.14,216.92 107.58,215.13 110.02,218.41 112.46,217.42 114.9,216.13 117.34,217.12 119.78,218.41 122.22,216.92 124.66,215.93 127.1,217.12 129.54,218.11 131.98,217.71 134.42,217.12 136.86,218.71 139.3,217.91 141.74,217.71 144.18,218.41 146.62,218.71 149.06,218.91 151.5,218.91"/>
<rect x="17.3" y="184.2" width="134.2" height="50.8" fill="none" stroke="#6a6a6a" stroke-width="0.6"/>
<path d="M29.5 235v-1.3M29.5 184.2v1.3M41.7 235v-1.3M41.7 184.2v1.3M53.9 235v-1.3M53.9 184.2v1.3M66.1 235v-1.3M66.1 184.2v1.3M78.3 235v-1.3M78.3 184.2v1.3M90.5 235v-1.3M90.5 184.2v1.3M102.7 235v-1.3M102.7 184.2v1.3M114.9 235v-1.3M114.9 184.2v1.3M127.1 235v-1.3M127.1 184.2v1.3M139.3 235v-1.3M139.3 184.2v1.3M17.3 235h1.3M151.5 235h-1.3M17.3 218.1h1.3M151.5 218.1h-1.3M17.3 201.1h1.3M151.5 201.1h-1.3M17.3 184.2h1.3M151.5 184.2h-1.3" stroke="#6a6a6a" stroke-width="0.6" fill="none"/>
<text class="k" text-anchor="end" transform="translate(22.1 242) rotate(-45)">1985</text>
<text class="k" text-anchor="end" transform="translate(34.3 242) rotate(-45)">1990</text>
<text class="k" text-anchor="end" transform="translate(46.5 242) rotate(-45)">1995</text>
<text class="k" text-anchor="end" transform="translate(58.7 242) rotate(-45)">2000</text>
<text class="k" text-anchor="end" transform="translate(70.9 242) rotate(-45)">2005</text>
<text class="k" text-anchor="end" transform="translate(83.1 242) rotate(-45)">2010</text>
<text class="k" text-anchor="end" transform="translate(95.3 242) rotate(-45)">2015</text>
<text class="k" text-anchor="end" transform="translate(107.5 242) rotate(-45)">2020</text>
<text class="k" text-anchor="end" transform="translate(119.7 242) rotate(-45)">2025</text>
<text class="k" text-anchor="end" transform="translate(131.9 242) rotate(-45)">2030</text>
<text class="k" text-anchor="end" transform="translate(144.1 242) rotate(-45)">2035</text>
<text class="k" text-anchor="end" transform="translate(156.3 242) rotate(-45)">2040</text>
<text class="k" text-anchor="end" x="14.8" y="237.9">0</text>
<text class="k" text-anchor="end" x="14.8" y="221">1</text>
<text class="k" text-anchor="end" x="14.8" y="204">2</text>
<text class="k" text-anchor="end" x="14.8" y="187.1">3</text>
<text class="t" x="84.4" y="181.6">Corpus Uteri</text>
<text class="l" x="84" y="260.1">Year</text>
<text class="l" transform="translate(8.04 209.6) rotate(-90)">Incidence per 100,000</text>
</g>
<g>
<clipPath id="c9"><rect x="194.3" y="184.2" width="134" height="50.8"/></clipPath>
<polyline fill="none" stroke="#0072BD" stroke-width="2" stroke-linejoin="round" stroke-linecap="round" points="201.61,192.12 204.05,192.12 206.48,191.49 208.92,190.6 211.35,192.75 213.79,196.92 216.23,189.84 218.66,186.43 221.1,191.86 223.54,191.86 225.97,187.69 228.41,183.9 230.85,188.96 233.28,187.06 235.72,192.12 238.15,195.28 240.59,187.06 243.03,199.07 245.46,193.38 247.9,187.69 250.34,197.18 252.77,200.34 255.21,194.65 257.65,191.86 260.08,197.81 262.52,191.11 264.95,197.81 267.39,194.9 269.83,207.04 272.26,209.82 274.7,211.09 277.14,210.08"/>
<polygon clip-path="url(#c9)" fill="#8080FF" points="277.14,196.17 279.57,196.57 282.01,197.16 284.45,197.76 286.88,198.25 289.32,198.75 291.75,199.15 294.19,199.94 296.63,200.74 299.06,201.53 301.5,202.13 303.94,202.62 306.37,203.12 308.81,203.61 311.25,204.11 313.68,204.51 316.12,204.51 318.55,204.41 320.99,204.71 323.43,205.4 325.86,206.39 328.3,207.39 328.3,223.96 325.86,223.74 323.43,223.51 320.99,223.28 318.55,223.05 316.12,222.82 313.68,222.6 311.25,222.37 308.81,222.14 306.37,221.91 303.94,221.68 301.5,221.38 299.06,221.07 296.63,220.76 294.19,220.45 291.75,220.15 289.32,219.84 286.88,219.53 284.45,219.23 282.01,218.92 279.57,218.61 277.14,218.31"/>
<polyline clip-path="url(#c9)" fill="none" stroke="#0036F5" stroke-width="2.2" stroke-linejoin="round" points="277.14,210.07 279.57,210.36 282.01,210.66 284.45,211.06 286.88,211.56 289.32,211.85 291.75,212.25 294.19,212.65 296.63,213.14 299.06,213.64 301.5,214.04 303.94,214.34 306.37,214.63 308.81,215.03 311.25,215.33 313.68,215.63 316.12,215.63 318.55,215.63 320.99,215.92 323.43,216.32 325.86,217.02 328.3,217.81"/>
<rect x="194.3" y="184.2" width="134" height="50.8" fill="none" stroke="#6a6a6a" stroke-width="0.6"/>
<path d="M206.48 235v-1.3M206.48 184.2v1.3M218.66 235v-1.3M218.66 184.2v1.3M230.85 235v-1.3M230.85 184.2v1.3M243.03 235v-1.3M243.03 184.2v1.3M255.21 235v-1.3M255.21 184.2v1.3M267.39 235v-1.3M267.39 184.2v1.3M279.57 235v-1.3M279.57 184.2v1.3M291.75 235v-1.3M291.75 184.2v1.3M303.94 235v-1.3M303.94 184.2v1.3M316.12 235v-1.3M316.12 184.2v1.3M194.3 235h1.3M328.3 235h-1.3M194.3 211.4h1.3M328.3 211.4h-1.3M194.3 187.8h1.3M328.3 187.8h-1.3" stroke="#6a6a6a" stroke-width="0.6" fill="none"/>
<text class="k" text-anchor="end" transform="translate(199.1 242) rotate(-45)">1985</text>
<text class="k" text-anchor="end" transform="translate(211.28 242) rotate(-45)">1990</text>
<text class="k" text-anchor="end" transform="translate(223.46 242) rotate(-45)">1995</text>
<text class="k" text-anchor="end" transform="translate(235.65 242) rotate(-45)">2000</text>
<text class="k" text-anchor="end" transform="translate(247.83 242) rotate(-45)">2005</text>
<text class="k" text-anchor="end" transform="translate(260.01 242) rotate(-45)">2010</text>
<text class="k" text-anchor="end" transform="translate(272.19 242) rotate(-45)">2015</text>
<text class="k" text-anchor="end" transform="translate(284.37 242) rotate(-45)">2020</text>
<text class="k" text-anchor="end" transform="translate(296.55 242) rotate(-45)">2025</text>
<text class="k" text-anchor="end" transform="translate(308.74 242) rotate(-45)">2030</text>
<text class="k" text-anchor="end" transform="translate(320.92 242) rotate(-45)">2035</text>
<text class="k" text-anchor="end" transform="translate(333.1 242) rotate(-45)">2040</text>
<text class="k" text-anchor="end" x="191.8" y="237.9">0</text>
<text class="k" text-anchor="end" x="191.8" y="214.3">2</text>
<text class="k" text-anchor="end" x="191.8" y="190.7">4</text>
<text class="t" x="261.3" y="181.6">Ovary</text>
<text class="l" x="260.9" y="260.1">Year</text>
<text class="l" transform="translate(185.04 209.6) rotate(-90)">Incidence per 100,000</text>
</g>
<g>
<clipPath id="c10"><rect x="370.2" y="184.2" width="134.4" height="50.8"/></clipPath>
<polyline fill="none" stroke="#0072BD" stroke-width="2" stroke-linejoin="round" stroke-linecap="round" points="377.53,188.28 379.97,202.19 382.42,197.64 384.86,210.66 387.31,205.98 389.75,212.31 392.19,212.81 394.64,216.35 397.08,215.72 399.52,212.56 401.97,211.93 404.41,223.69 406.85,216.61 409.3,220.15 411.74,222.42 414.19,222.04 416.63,216.99 419.07,220.4 421.52,217.62 423.96,222.42 426.4,209.4 428.85,219.89 431.29,211.04 433.73,211.29 436.18,216.35 438.62,222.04 441.07,215.34 443.51,206.24 445.95,200.92 448.4,210.66 450.84,213.19 453.28,211.93"/>
<polygon clip-path="url(#c10)" fill="#8080FF" points="453.28,184.48 455.73,185.77 458.17,186.17 460.61,186.37 463.06,185.77 465.5,187.46 467.95,188.45 470.39,189.15 472.83,190.14 475.28,189.15 477.72,189.74 480.16,190.44 482.61,190.24 485.05,191.93 487.49,189.15 489.94,190.74 492.38,192.42 494.83,191.13 497.27,193.42 499.71,192.72 502.16,195.4 504.6,196.39 504.6,230.42 502.16,230.36 499.71,230.3 497.27,230.24 494.83,230.18 492.38,230.12 489.94,230.06 487.49,230 485.05,229.94 482.61,229.88 480.16,229.82 477.72,229.64 475.28,229.46 472.83,229.28 470.39,229.1 467.95,228.92 465.5,228.74 463.06,228.56 460.61,228.38 458.17,228.2 455.73,228.02 453.28,227.84"/>
<polyline clip-path="url(#c10)" fill="none" stroke="#0036F5" stroke-width="2.2" stroke-linejoin="round" points="453.28,211.96 455.73,212.25 458.17,212.75 460.61,212.95 463.06,212.55 465.5,213.45 467.95,214.14 470.39,214.74 472.83,214.93 475.28,213.94 477.72,214.44 480.16,214.93 482.61,215.43 485.05,215.93 487.49,214.44 489.94,215.13 492.38,216.13 494.83,215.13 497.27,216.13 499.71,215.73 502.16,216.92 504.6,217.71"/>
<rect x="370.2" y="184.2" width="134.4" height="50.8" fill="none" stroke="#6a6a6a" stroke-width="0.6"/>
<path d="M382.42 235v-1.3M382.42 184.2v1.3M394.64 235v-1.3M394.64 184.2v1.3M406.85 235v-1.3M406.85 184.2v1.3M419.07 235v-1.3M419.07 184.2v1.3M431.29 235v-1.3M431.29 184.2v1.3M443.51 235v-1.3M443.51 184.2v1.3M455.73 235v-1.3M455.73 184.2v1.3M467.95 235v-1.3M467.95 184.2v1.3M480.16 235v-1.3M480.16 184.2v1.3M492.38 235v-1.3M492.38 184.2v1.3M370.2 235h1.3M504.6 235h-1.3M370.2 212.7h1.3M504.6 212.7h-1.3M370.2 190.3h1.3M504.6 190.3h-1.3" stroke="#6a6a6a" stroke-width="0.6" fill="none"/>
<text class="k" text-anchor="end" transform="translate(375 242) rotate(-45)">1985</text>
<text class="k" text-anchor="end" transform="translate(387.22 242) rotate(-45)">1990</text>
<text class="k" text-anchor="end" transform="translate(399.44 242) rotate(-45)">1995</text>
<text class="k" text-anchor="end" transform="translate(411.65 242) rotate(-45)">2000</text>
<text class="k" text-anchor="end" transform="translate(423.87 242) rotate(-45)">2005</text>
<text class="k" text-anchor="end" transform="translate(436.09 242) rotate(-45)">2010</text>
<text class="k" text-anchor="end" transform="translate(448.31 242) rotate(-45)">2015</text>
<text class="k" text-anchor="end" transform="translate(460.53 242) rotate(-45)">2020</text>
<text class="k" text-anchor="end" transform="translate(472.75 242) rotate(-45)">2025</text>
<text class="k" text-anchor="end" transform="translate(484.96 242) rotate(-45)">2030</text>
<text class="k" text-anchor="end" transform="translate(497.18 242) rotate(-45)">2035</text>
<text class="k" text-anchor="end" transform="translate(509.4 242) rotate(-45)">2040</text>
<text class="k" text-anchor="end" x="367.7" y="237.9">0</text>
<text class="k" text-anchor="end" x="367.7" y="215.6">2</text>
<text class="k" text-anchor="end" x="367.7" y="193.2">4</text>
<text class="t" x="437.4" y="181.6">Prostate</text>
<text class="l" x="437" y="260.1">Year</text>
<text class="l" transform="translate(360.94 209.6) rotate(-90)">Incidence per 100,000</text>
</g>
<g>
<clipPath id="c11"><rect x="546.4" y="184.2" width="134.6" height="50.8"/></clipPath>
<polyline fill="none" stroke="#0072BD" stroke-width="2" stroke-linejoin="round" stroke-linecap="round" points="553.74,213.78 556.19,217.82 558.64,216.56 561.08,220.73 563.53,219.09 565.98,219.34 568.43,222.88 570.87,220.1 573.32,219.72 575.77,219.09 578.21,217.19 580.66,220.35 583.11,214.28 585.56,216.56 588,221.87 590.45,220.35 592.9,217.19 595.35,209.22 597.79,219.09 600.24,217.19 602.69,211.75 605.13,215.55 607.58,203.28 610.03,205.43 612.48,204.16 614.92,219.34 617.37,206.44 619.82,198.6 622.27,205.81 624.71,212.76 627.16,219.97 629.61,219.72"/>
<polygon clip-path="url(#c11)" fill="#8080FF" points="629.61,184.78 632.05,187.46 634.5,190.14 636.95,190.93 639.4,189.94 641.84,189.15 644.29,191.43 646.74,192.22 649.19,191.93 651.63,191.43 654.08,190.93 656.53,191.73 658.97,191.63 661.42,191.43 663.87,190.93 666.32,191.93 668.76,192.72 671.21,189.45 673.66,189.94 676.11,191.73 678.55,194.41 681,195.4 681,230.82 678.55,230.75 676.11,230.68 673.66,230.61 671.21,230.54 668.76,230.47 666.32,230.4 663.87,230.33 661.42,230.26 658.97,230.19 656.53,230.12 654.08,230.05 651.63,229.98 649.19,229.91 646.74,229.83 644.29,229.76 641.84,229.69 639.4,229.62 636.95,229.54 634.5,229.47 632.05,229.4 629.61,229.33"/>
<polyline clip-path="url(#c11)" fill="none" stroke="#0036F5" stroke-width="2.2" stroke-linejoin="round" points="629.61,219.7 632.05,220.1 634.5,220.69 636.95,220.89 639.4,220.69 641.84,221.09 644.29,221.68 646.74,221.88 649.19,221.88 651.63,221.88 654.08,221.88 656.53,222.08 658.97,222.08 661.42,222.18 663.87,222.38 666.32,222.88 668.76,223.07 671.21,221.88 673.66,222.38 676.11,223.07 678.55,223.87 681,224.27"/>
<rect x="546.4" y="184.2" width="134.6" height="50.8" fill="none" stroke="#6a6a6a" stroke-width="0.6"/>
<path d="M558.64 235v-1.3M558.64 184.2v1.3M570.87 235v-1.3M570.87 184.2v1.3M583.11 235v-1.3M583.11 184.2v1.3M595.35 235v-1.3M595.35 184.2v1.3M607.58 235v-1.3M607.58 184.2v1.3M619.82 235v-1.3M619.82 184.2v1.3M632.05 235v-1.3M632.05 184.2v1.3M644.29 235v-1.3M644.29 184.2v1.3M656.53 235v-1.3M656.53 184.2v1.3M668.76 235v-1.3M668.76 184.2v1.3M546.4 235h1.3M681 235h-1.3M546.4 212.6h1.3M681 212.6h-1.3M546.4 190.2h1.3M681 190.2h-1.3" stroke="#6a6a6a" stroke-width="0.6" fill="none"/>
<text class="k" text-anchor="end" transform="translate(551.2 242) rotate(-45)">1985</text>
<text class="k" text-anchor="end" transform="translate(563.44 242) rotate(-45)">1990</text>
<text class="k" text-anchor="end" transform="translate(575.67 242) rotate(-45)">1995</text>
<text class="k" text-anchor="end" transform="translate(587.91 242) rotate(-45)">2000</text>
<text class="k" text-anchor="end" transform="translate(600.15 242) rotate(-45)">2005</text>
<text class="k" text-anchor="end" transform="translate(612.38 242) rotate(-45)">2010</text>
<text class="k" text-anchor="end" transform="translate(624.62 242) rotate(-45)">2015</text>
<text class="k" text-anchor="end" transform="translate(636.85 242) rotate(-45)">2020</text>
<text class="k" text-anchor="end" transform="translate(649.09 242) rotate(-45)">2025</text>
<text class="k" text-anchor="end" transform="translate(661.33 242) rotate(-45)">2030</text>
<text class="k" text-anchor="end" transform="translate(673.56 242) rotate(-45)">2035</text>
<text class="k" text-anchor="end" transform="translate(685.8 242) rotate(-45)">2040</text>
<text class="k" text-anchor="end" x="543.9" y="237.9">0</text>
<text class="k" text-anchor="end" x="543.9" y="215.5">0.5</text>
<text class="k" text-anchor="end" x="543.9" y="193.1">1</text>
<text class="t" x="613.7" y="181.6">Urinary Bladder</text>
<text class="l" x="613.3" y="260.1">Year</text>
<text class="l" transform="translate(531.8 209.6) rotate(-90)">Incidence per 100,000</text>
</g>
<g>
<clipPath id="c12"><rect x="17.3" y="272.1" width="134.2" height="50.8"/></clipPath>
<polyline fill="none" stroke="#0072BD" stroke-width="2" stroke-linejoin="round" stroke-linecap="round" points="24.62,291.96 27.06,297.02 29.5,296.76 31.94,298.66 34.38,296.76 36.82,301.19 39.26,293.6 41.7,294.87 44.14,300.81 46.58,290.44 49.02,298.28 51.46,304.99 53.9,302.46 56.34,296.13 58.78,295.75 61.22,296.76 63.66,293.6 66.1,302.08 68.54,298.66 70.98,293.86 73.42,295.5 75.86,301.19 78.3,299.93 80.74,291.71 83.18,296.13 85.62,294.87 88.06,293.6 90.5,285.64 92.94,298.66 95.38,299.93 97.82,290.19 100.26,289.81"/>
<polygon clip-path="url(#c12)" fill="#8080FF" points="100.26,272.18 102.7,272.48 105.14,272.78 107.58,273.18 110.02,273.97 112.46,274.76 114.9,273.97 117.34,274.17 119.78,274.96 122.22,273.97 124.66,274.76 127.1,275.76 129.54,274.17 131.98,274.17 134.42,274.47 136.86,275.46 139.3,274.76 141.74,274.47 144.18,274.96 146.62,275.16 149.06,275.16 151.5,275.16 151.5,309.39 149.06,309.32 146.62,309.25 144.18,309.18 141.74,309.11 139.3,309.04 136.86,308.97 134.42,308.9 131.98,308.83 129.54,308.76 127.1,308.69 124.66,308.53 122.22,308.37 119.78,308.2 117.34,308.04 114.9,307.88 112.46,307.72 110.02,307.56 107.58,307.39 105.14,307.23 102.7,307.07 100.26,306.91"/>
<polyline clip-path="url(#c12)" fill="none" stroke="#0036F5" stroke-width="2.2" stroke-linejoin="round" points="100.26,290.35 102.7,290.55 105.14,290.85 107.58,291.14 110.02,291.54 112.46,291.84 114.9,291.64 117.34,292.04 119.78,292.44 122.22,292.63 124.66,293.13 127.1,293.82 129.54,293.23 131.98,293.43 134.42,293.82 136.86,294.12 139.3,293.82 141.74,293.63 144.18,294.02 146.62,294.32 149.06,294.62 151.5,294.82"/>
<rect x="17.3" y="272.1" width="134.2" height="50.8" fill="none" stroke="#6a6a6a" stroke-width="0.6"/>
<path d="M29.5 322.9v-1.3M29.5 272.1v1.3M41.7 322.9v-1.3M41.7 272.1v1.3M53.9 322.9v-1.3M53.9 272.1v1.3M66.1 322.9v-1.3M66.1 272.1v1.3M78.3 322.9v-1.3M78.3 272.1v1.3M90.5 322.9v-1.3M90.5 272.1v1.3M102.7 322.9v-1.3M102.7 272.1v1.3M114.9 322.9v-1.3M114.9 272.1v1.3M127.1 322.9v-1.3M127.1 272.1v1.3M139.3 322.9v-1.3M139.3 272.1v1.3M17.3 322.9h1.3M151.5 322.9h-1.3M17.3 306.5h1.3M151.5 306.5h-1.3M17.3 290.2h1.3M151.5 290.2h-1.3M17.3 273.8h1.3M151.5 273.8h-1.3" stroke="#6a6a6a" stroke-width="0.6" fill="none"/>
<text class="k" text-anchor="end" transform="translate(22.1 329.9) rotate(-45)">1985</text>
<text class="k" text-anchor="end" transform="translate(34.3 329.9) rotate(-45)">1990</text>
<text class="k" text-anchor="end" transform="translate(46.5 329.9) rotate(-45)">1995</text>
<text class="k" text-anchor="end" transform="translate(58.7 329.9) rotate(-45)">2000</text>
<text class="k" text-anchor="end" transform="translate(70.9 329.9) rotate(-45)">2005</text>
<text class="k" text-anchor="end" transform="translate(83.1 329.9) rotate(-45)">2010</text>
<text class="k" text-anchor="end" transform="translate(95.3 329.9) rotate(-45)">2015</text>
<text class="k" text-anchor="end" transform="translate(107.5 329.9) rotate(-45)">2020</text>
<text class="k" text-anchor="end" transform="translate(119.7 329.9) rotate(-45)">2025</text>
<text class="k" text-anchor="end" transform="translate(131.9 329.9) rotate(-45)">2030</text>
<text class="k" text-anchor="end" transform="translate(144.1 329.9) rotate(-45)">2035</text>
<text class="k" text-anchor="end" transform="translate(156.3 329.9) rotate(-45)">2040</text>
<text class="k" text-anchor="end" x="14.8" y="325.8">0</text>
<text class="k" text-anchor="end" x="14.8" y="309.4">1</text>
<text class="k" text-anchor="end" x="14.8" y="293.1">2</text>
<text class="k" text-anchor="end" x="14.8" y="276.7">3</text>
<text class="t" x="84.4" y="269.5">Kidney and Renal Pelvis</text>
<text class="l" x="84" y="348">Year</text>
<text class="l" transform="translate(8.04 297.5) rotate(-90)">Incidence per 100,000</text>
</g>
</svg>
</body></html>
